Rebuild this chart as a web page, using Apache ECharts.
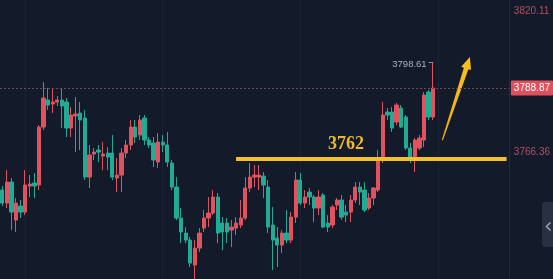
<!DOCTYPE html>
<html><head><meta charset="utf-8">
<script src="https://cdn.jsdelivr.net/npm/echarts@6/dist/echarts.min.js"></script>
<style>html,body{margin:0;padding:0;background:#131a2a;overflow:hidden}#c{width:553px;height:279px}</style>
</head><body><div id="c"></div>
<script>
// [open, close, low, high]
const candles = [
[3749.94,3744.97,3743.83,3751.46],[3744.97,3752.99,3743.07,3757.57],[3752.99,3741.54,3734.67,3754.52],[3738.49,3744.97,3733.91,3746.88],
[3743.83,3741.54,3739.25,3746.12],[3741.54,3751.85,3740.39,3757.57],[3751.46,3752.23,3747.27,3755.66],[3752.61,3751.46,3746.88,3756.43],
[3751.85,3773.98,3749.94,3774.75],[3773.98,3785.05,3772.84,3791.16],[3784.29,3782.38,3780.47,3788.87],[3782.76,3783.53,3779.33,3788.87],
[3783.53,3784.29,3782.00,3785.82],[3784.29,3782.00,3773.60,3788.87],[3783.53,3773.60,3770.17,3785.05],[3773.60,3778.56,3770.17,3781.62],
[3778.18,3778.95,3764.44,3785.44],[3779.33,3776.66,3765.20,3783.53],[3777.42,3754.90,3753.75,3780.47],[3754.90,3763.30,3750.70,3767.11],
[3763.68,3764.44,3761.39,3765.97],[3765.20,3764.44,3760.62,3767.11],[3762.91,3763.68,3757.57,3768.26],[3764.06,3762.53,3757.57,3766.35],
[3764.06,3754.90,3753.75,3770.93],[3754.52,3755.66,3749.17,3762.15],[3755.66,3764.06,3749.17,3765.97],[3764.06,3767.11,3762.15,3769.02],
[3767.11,3773.98,3765.20,3776.66],[3773.98,3770.17,3767.88,3776.66],[3770.93,3776.66,3769.02,3778.56],[3777.42,3769.02,3767.11,3778.56],
[3769.02,3767.11,3765.97,3770.17],[3767.88,3761.39,3758.72,3770.17],[3760.62,3768.26,3758.33,3771.69],[3768.26,3767.11,3764.44,3770.93],
[3767.11,3760.62,3758.72,3772.08],[3760.24,3751.08,3749.94,3761.39],[3751.08,3739.25,3738.49,3754.90],[3739.25,3733.91,3729.71,3743.07],
[3733.52,3730.85,3729.71,3735.81],[3730.85,3722.07,3720.55,3732.00],[3721.31,3727.80,3715.97,3730.85],[3727.80,3733.52,3726.27,3735.43],
[3735.43,3739.25,3733.91,3742.30],[3739.25,3741.16,3735.81,3747.27],[3741.16,3747.27,3740.39,3749.94],[3747.27,3733.52,3729.71,3748.79],
[3737.34,3733.91,3727.03,3739.63],[3737.34,3733.91,3729.71,3739.25],[3734.67,3735.81,3728.18,3738.49],[3735.43,3737.34,3732.76,3739.63],
[3736.58,3739.25,3735.43,3746.12],[3739.25,3750.70,3738.49,3754.90],[3750.70,3754.90,3749.17,3760.24],[3754.90,3755.66,3751.08,3759.48],
[3754.90,3755.66,3749.94,3759.48],[3755.28,3751.85,3746.88,3756.81],[3751.08,3735.81,3733.52,3753.75],[3736.58,3730.85,3719.40,3743.45],
[3731.62,3728.94,3720.55,3735.81],[3728.94,3733.52,3725.89,3734.67],[3733.52,3730.85,3729.71,3742.30],[3730.85,3739.63,3729.71,3741.54],
[3739.63,3753.75,3737.34,3756.81],[3753.75,3744.97,3744.21,3756.43],[3744.97,3747.27,3743.07,3749.94],[3749.17,3747.27,3744.21,3750.70],
[3747.27,3743.07,3737.72,3748.03],[3743.07,3747.27,3740.39,3749.94],[3748.03,3735.81,3735.43,3748.79],[3737.34,3735.81,3733.91,3740.39],
[3736.58,3743.45,3735.43,3744.21],[3744.21,3746.12,3742.30,3746.88],[3746.12,3739.63,3738.49,3748.03],[3741.54,3740.39,3737.72,3744.21],
[3741.54,3746.12,3737.72,3748.03],[3746.12,3751.08,3744.97,3752.99],[3751.08,3749.17,3744.21,3752.99],[3749.94,3742.30,3741.54,3752.99],
[3743.07,3746.88,3742.30,3748.79],[3746.88,3750.70,3744.21,3751.08],[3749.94,3761.39,3749.17,3765.20],[3761.39,3778.56,3760.24,3783.53],
[3779.71,3778.56,3776.66,3781.24],[3779.71,3773.60,3772.08,3781.62],[3775.89,3782.38,3774.75,3783.14],[3781.24,3773.98,3773.60,3782.38],
[3777.80,3765.97,3765.20,3778.56],[3765.97,3761.39,3760.24,3767.88],[3762.15,3769.02,3756.81,3769.79],[3765.97,3769.79,3765.20,3770.93],
[3769.02,3786.20,3766.35,3787.34],[3787.34,3777.80,3776.66,3788.11],[3777.80,3788.87,3776.66,3798.61]
];
const slotCount = 111;
const categories = Array.from({length: slotCount}, (_, i) => String(i + 1));
const axisLabelValues = [3820.11, 3766.36];
const lastPrice = 3788.87;
const highPrice = 3798.61;
const supportLevel = 3762;
const supportStart = 51, supportEnd = 110, supportLabelAt = 75;
const arrowFrom = [96, 3769.0], arrowTo = [102, 3800.7];

const UP = '#e0525e', DOWN = '#22ab94';
const chart = echarts.init(document.getElementById('c'), null, {renderer: 'canvas'});
chart.setOption({
  backgroundColor: '#131a2a',
  animation: false,
  grid: {left: -2, right: 41, top: 0, bottom: 0, containLabel: false},
  xAxis: {
    type: 'category', data: categories, boundaryGap: true,
    axisLine: {show: false}, axisTick: {show: false}, axisLabel: {show: false},
    splitLine: {show: true, alignWithLabel: true, interval: (i) => i % 30 === 5, lineStyle: {color: '#1a2234', width: 1}}
  },
  yAxis: {
    type: 'value', position: 'right', min: 3716.0, max: 3822.46, scale: true,
    axisLine: {show: true, lineStyle: {color: '#222a3b'}},
    axisTick: {show: false},
    splitLine: {show: false},
    axisLabel: {customValues: axisLabelValues, color: '#b4505e', fontSize: 10, margin: 5, verticalAlign: 'top',
      fontFamily: 'Liberation Sans, Arial, sans-serif', formatter: (v) => v.toFixed(2)}
  },
  series: [{
    type: 'candlestick', data: candles, barWidth: 3.8,
    itemStyle: {color: UP, color0: DOWN, borderColor: UP, borderColor0: DOWN, borderWidth: 1},
    markLine: {
      silent: true, symbol: 'none', animation: false,
      data: [
        {yAxis: lastPrice, lineStyle: {type: [2, 2], color: '#7a4652', width: 1},
          label: {show: true, position: 'end', distance: 2, formatter: lastPrice.toFixed(2), color: '#ffffff',
            backgroundColor: '#e0505c', padding: [3, 3, 2, 3], fontSize: 10, borderRadius: 1,
            fontFamily: 'Liberation Sans, Arial, sans-serif'}},
        [{coord: [supportStart, supportLevel], lineStyle: {color: '#f3c22b', width: 4, type: 'solid'}, label: {show: false}},
         {coord: [supportEnd, supportLevel]}],
        [{coord: [93, highPrice], lineStyle: {color: '#8c94a6', width: 1, type: 'solid'}, label: {show: false}},
         {coord: [94, highPrice]}]
      ]
    },
    markPoint: {
      silent: true, animation: false,
      data: [
        {coord: [supportLabelAt, supportLevel], symbol: 'circle', symbolSize: 0,
          label: {show: true, position: 'top', distance: 5, formatter: String(supportLevel), color: '#edb82a',
            fontSize: 18, fontWeight: 'bold', fontFamily: 'Liberation Serif, Times New Roman, serif'}},
        {coord: [93, highPrice], symbol: 'circle', symbolSize: 0,
          label: {show: true, position: 'left', distance: 2, offset: [0, 2], formatter: highPrice.toFixed(2), color: '#aab2c2',
            fontSize: 9.5, fontFamily: 'Liberation Sans, Arial, sans-serif'}}
      ]
    }
  }]
});

// tapered hand-drawn arrow, positioned through the chart's own scales
const T = chart.convertToPixel({seriesIndex: 0}, arrowFrom);
const P = chart.convertToPixel({seriesIndex: 0}, arrowTo);
const dx = P[0] - T[0], dy = P[1] - T[1], L = Math.hypot(dx, dy);
const ux = dx / L, uy = dy / L, nx = -uy, ny = ux;
const head = 12, B = [P[0] - ux * head, P[1] - uy * head];
const pt = (p, w) => [p[0] + nx * w, p[1] + ny * w];
chart.setOption({
  graphic: [
    {type: 'polygon', shape: {points: [pt(T, 0.6), pt(B, 2.4), pt(B, 5.2), P, pt(B, -5.2), pt(B, -2.4), pt(T, -0.6)]},
      style: {fill: new echarts.graphic.LinearGradient(0, 1, 0, 0, [{offset: 0, color: '#f0a81a'}, {offset: 1, color: '#f7c21c'}])}},
    {type: 'rect', right: -4, top: 202, shape: {width: 15, height: 45, r: 3}, style: {fill: '#283041'}},
    {type: 'polyline', left: 544, top: 220, shape: {points: [[4, 0], [0, 4], [4, 8]]}, style: {stroke: '#9aa3b5', lineWidth: 1.5, fill: null}}
  ]
});
</script></body></html>
